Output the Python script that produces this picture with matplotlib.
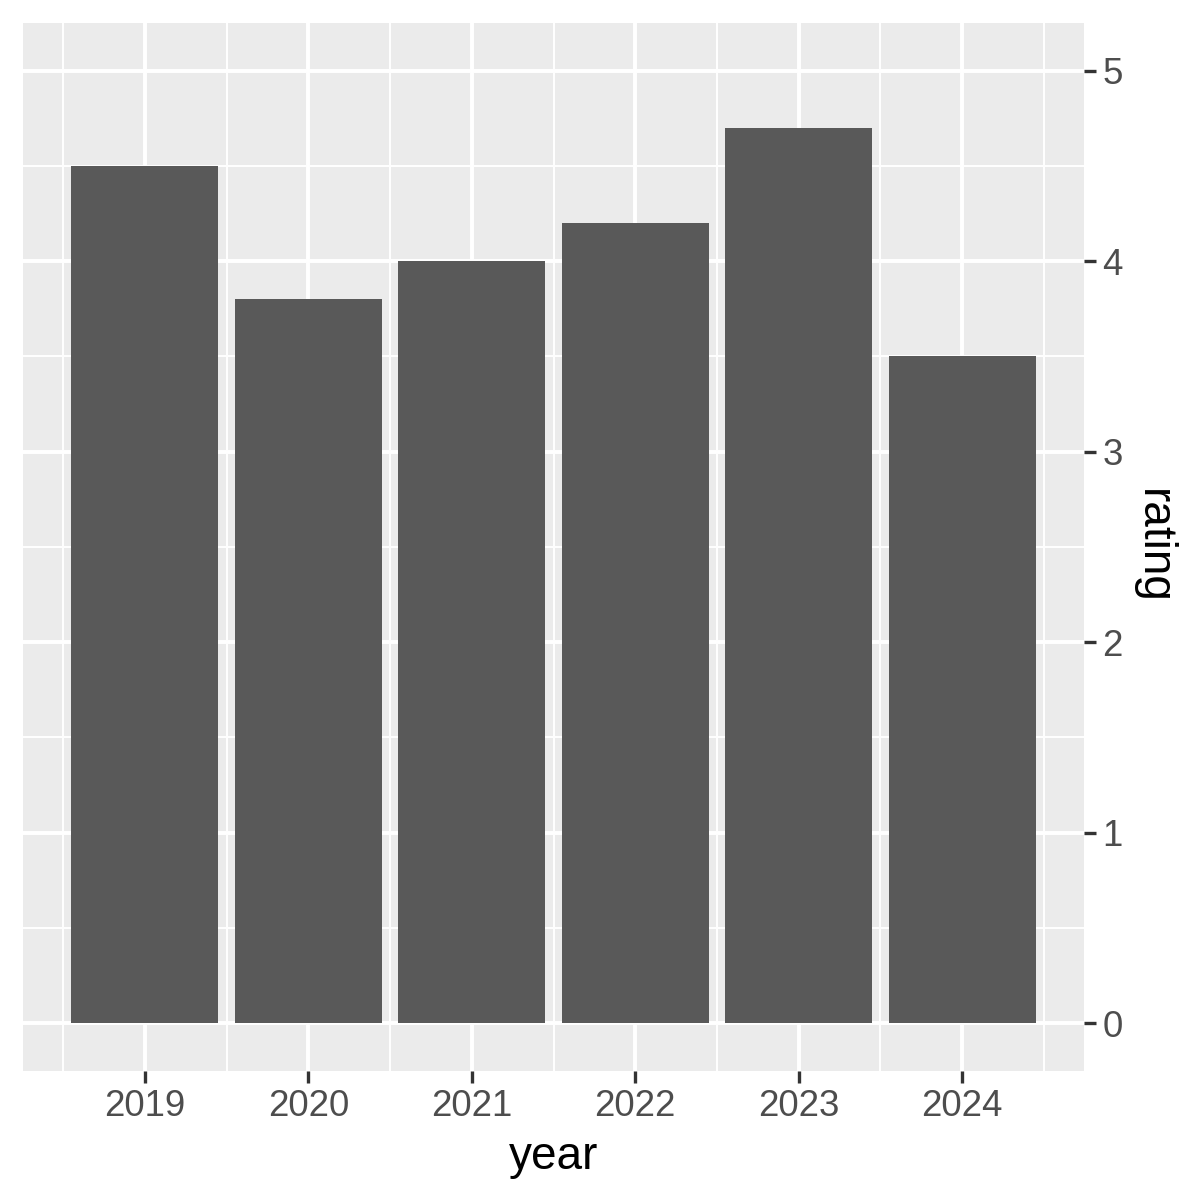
import matplotlib
matplotlib.use('Agg')
import matplotlib.pyplot as plt
from matplotlib.ticker import MultipleLocator

years = [2019, 2020, 2021, 2022, 2023, 2024]
rating = [4.5, 3.8, 4.0, 4.2, 4.7, 3.5]

plt.rcParams['font.family'] = ['Liberation Sans', 'DejaVu Sans']

fig = plt.figure(figsize=(6, 6), dpi=200)
ax = fig.add_axes([23 / 1200, 1 - 1070.7 / 1200, (1084 - 23) / 1200, (1070.7 - 23) / 1200])
ax.set_facecolor('#EBEBEB')

ax.bar(years, rating, width=0.9, color='#595959', zorder=3)

ax.set_xlim(2018.255, 2024.745)
ax.set_ylim(-0.25, 5.25)
ax.set_xticks(years)
ax.xaxis.set_minor_locator(MultipleLocator(1, offset=0.5))
ax.yaxis.set_major_locator(MultipleLocator(1))
ax.yaxis.set_minor_locator(MultipleLocator(1, offset=0.5))

ax.grid(which='major', color='white', linewidth=1.42, zorder=1)
ax.grid(which='minor', color='white', linewidth=0.71, zorder=1)
ax.set_axisbelow(True)

for s in ax.spines.values():
    s.set_visible(False)

ax.yaxis.tick_right()
ax.yaxis.set_label_position('right')
ax.tick_params(which='major', length=4.2, width=1.2, color='#333333',
               labelcolor='#4D4D4D', labelsize=13.2, pad=2.5)
ax.tick_params(which='minor', length=0)

ax.set_xlabel('year', fontsize=16.5, color='black', labelpad=4)
ax.set_ylabel('rating', fontsize=16.5, color='black', rotation=270, labelpad=18.5)

fig.savefig('out.png', dpi=200)
